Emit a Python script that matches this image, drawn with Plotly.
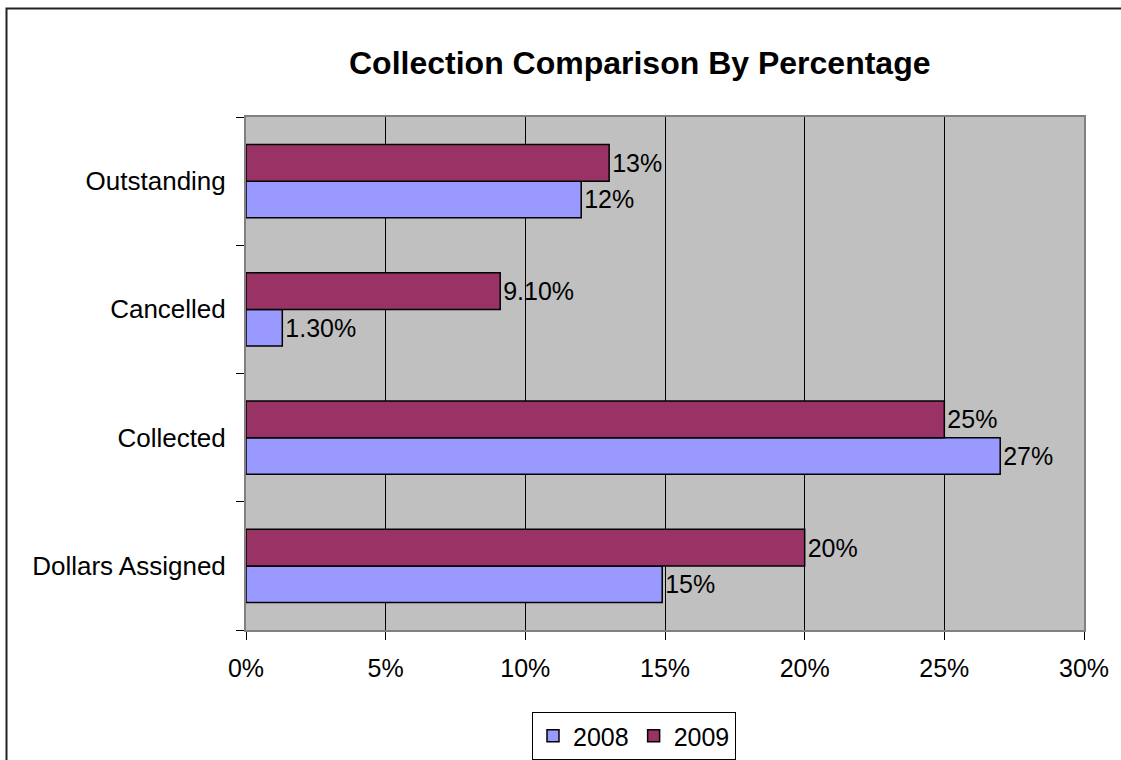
import plotly.graph_objects as go

categories = ["Dollars Assigned", "Collected", "Cancelled", "Outstanding"]
values_2008 = [0.149, 0.27, 0.013, 0.12]
values_2009 = [0.20, 0.25, 0.091, 0.13]
labels_2008 = ["15%", "27%", "1.30%", "12%"]
labels_2009 = ["20%", "25%", "9.10%", "13%"]
x_ticks = [0, 0.05, 0.10, 0.15, 0.20, 0.25, 0.30]
x_tick_labels = ["0%", "5%", "10%", "15%", "20%", "25%", "30%"]

W, H = 1121, 760
L, R, T, B = 246, 37, 117, 130
pw, ph = W - L - R, H - T - B

def px_x(x):
    return (x - L) / pw

def px_y(y):
    return (H - B - y) / ph

FONT = "Liberation Sans, Arial, sans-serif"
FS = 25

fig = go.Figure()
fig.add_trace(go.Bar(
    y=categories, x=values_2008, name="2008", orientation="h",
    marker=dict(color="#9999FF", line=dict(color="black", width=1.5)),
    text=labels_2008, textposition="outside", constraintext="none",
    textfont=dict(size=FS, color="black", family=FONT), cliponaxis=False,
))
fig.add_trace(go.Bar(
    y=categories, x=values_2009, name="2009", orientation="h",
    marker=dict(color="#993366", line=dict(color="black", width=1.5)),
    text=labels_2009, textposition="outside", constraintext="none",
    textfont=dict(size=FS, color="black", family=FONT), cliponaxis=False,
))

fig.update_layout(
    width=W, height=H,
    margin=dict(l=L, r=R, t=T, b=B, autoexpand=False),
    paper_bgcolor="white", plot_bgcolor="#C0C0C0",
    barmode="group", bargap=0.43, bargroupgap=0,
    font=dict(family=FONT, size=FS, color="black"),
    showlegend=True,
    legend=dict(
        orientation="h", x=px_x(634), xanchor="center", y=px_y(712), yanchor="top",
        bordercolor="black", borderwidth=1, bgcolor="white",
        font=dict(size=FS, family=FONT), traceorder="normal",
        itemwidth=30, tracegroupgap=0,
    ),
    xaxis=dict(
        range=[0, 0.30], tickvals=x_ticks, ticktext=x_tick_labels,
        showgrid=True, gridcolor="black", gridwidth=1,
        ticks="outside", ticklen=8, tickcolor="black",
        showline=True, linecolor="#808080", linewidth=2, mirror=True,
        zeroline=False, ticklabelstandoff=7,
        tickfont=dict(size=FS, family=FONT),
    ),
    yaxis=dict(
        categoryorder="array", categoryarray=categories,
        tickson="boundaries", ticks="outside", ticklen=8, tickcolor="black",
        showgrid=False, showline=True, linecolor="#808080", linewidth=2, mirror=True,
        ticklabelstandoff=13, tickfont=dict(size=26, family=FONT),
    ),
    annotations=[dict(
        text="<b>Collection Comparison By Percentage</b>",
        xref="paper", yref="paper", x=px_x(639), y=px_y(63),
        xanchor="center", yanchor="middle", showarrow=False,
        font=dict(size=32, family=FONT, color="black"),
    )],
    shapes=[dict(
        type="rect", xref="paper", yref="paper",
        x0=px_x(6.5), x1=px_x(1200), y0=px_y(800), y1=px_y(8.5),
        line=dict(color="#222222", width=2), fillcolor="rgba(0,0,0,0)", layer="above",
    )],
)

fig.write_html("out.html")
